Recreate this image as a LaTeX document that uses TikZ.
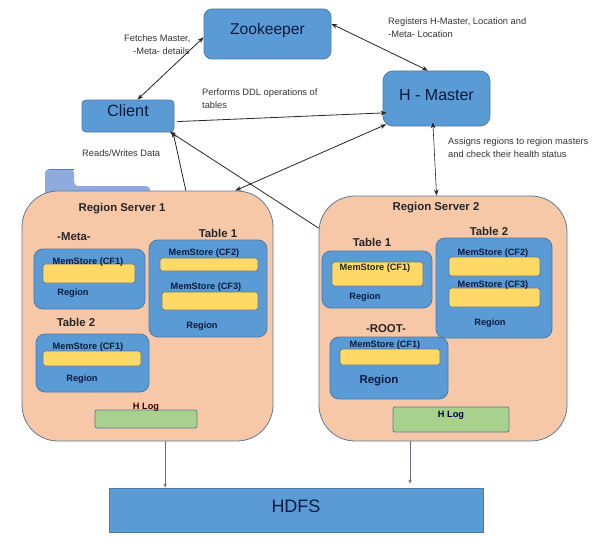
\documentclass[tikz,border=0pt]{standalone}
\usepackage{fontspec}
\setmainfont{Liberation Sans}
\usetikzlibrary{arrows.meta}

\definecolor{boxblue}{HTML}{5B9BD5}
\definecolor{lineblue}{HTML}{4A7BA8}
\definecolor{tabblue}{HTML}{8FAADC}
\definecolor{tabline}{HTML}{4F7CB0}
\definecolor{peach}{HTML}{F6C8A8}
\definecolor{peachline}{HTML}{5F7A96}
\definecolor{storeyellow}{HTML}{FFD966}
\definecolor{loggreen}{HTML}{A9D18E}
\definecolor{inkblue}{HTML}{0B1B3F}
\definecolor{hdfsline}{HTML}{66707F}

\tikzset{
    >={Stealth[length=6pt,width=4.5pt]},
    mainbox/.style={draw=lineblue, fill=boxblue, line width=0.8pt, inner sep=0pt, text=inkblue},
    serverbox/.style={draw=peachline, fill=peach, line width=0.8pt, rounded corners=36pt, inner sep=0pt},
    regionbox/.style={draw=lineblue, fill=boxblue, line width=0.8pt, rounded corners=9pt, inner sep=0pt},
    storebox/.style={draw=peachline, fill=storeyellow, line width=0.7pt, rounded corners=2.5pt, inner sep=0pt},
    logbox/.style={draw=peachline, fill=loggreen, line width=0.8pt, rounded corners=2pt, inner sep=0pt},
    note/.style={anchor=west, align=left, inner sep=0pt, text=black!80, font=\fontsize{9.3}{12.8}\selectfont},
    title/.style={inner sep=0pt, font=\fontsize{11.4}{13}\selectfont\bfseries, text=black!85},
    storelabel/.style={inner sep=0pt, font=\fontsize{9.2}{10}\selectfont\bfseries, text=inkblue},
    regionlabel/.style={inner sep=0pt, font=\fontsize{9.2}{11}\selectfont\bfseries, text=inkblue},
    datalink/.style={->, line width=0.8pt, black!85},
    hdfslink/.style={line width=0.7pt, hdfsline, -{Stealth[length=4pt,width=3.5pt]}}
}

\begin{document}
\begin{tikzpicture}[x=1pt, y=-1pt]
    \useasboundingbox (0,0) rectangle (608,551);

    % Tab behind the first server
    \fill[tabblue, rounded corners=4pt] (45,205) -- (45,169) -- (74,169) -- (74,186) -- (150,186) -- (150,205) -- cycle;
    \draw[tabline, line width=1pt] (49,169.5) -- (74,169.5);

    % Main nodes
    \node (Zookeeper) [mainbox, rounded corners=8pt, minimum width=127pt, minimum height=50pt, font=\fontsize{15.6}{18}\selectfont, text depth=11pt] at (267.5,34) {Zookeeper};
    \node (Client) [mainbox, rounded corners=4pt, minimum width=92pt, minimum height=32pt, font=\fontsize{16.3}{18}\selectfont, text depth=11pt] at (128,116) {Client};
    \node (HMaster) [mainbox, rounded corners=10pt, minimum width=107pt, minimum height=55pt, font=\fontsize{16}{18}\selectfont, text depth=8pt] at (436.5,98.5) {H - Master};
    \node (HDFS) [mainbox, minimum width=374pt, minimum height=44pt, font=\fontsize{18}{20}\selectfont, text depth=8pt] at (296,510) {HDFS};

    % Servers
    \node (RSone) [serverbox, minimum width=251pt, minimum height=250pt] at (147.5,316) {};
    \node (RStwo) [serverbox, minimum width=248pt, minimum height=245pt] at (443,318.5) {};
    \node (RSoneTitle) [title] at (122,209) {Region Server 1};
    \node (RStwoTitle) [title] at (436,208) {Region Server 2};

    % Regions of server 1
    \node (MetaTitle) [title] at (74,237) {-Meta-};
    \node (MetaRegion) [regionbox, minimum width=111pt, minimum height=60pt] at (89.5,279) {};
    \node (MetaStore) [storebox, minimum width=92pt, minimum height=19pt] at (89,273.5) {};
    \node (MetaStoreLabel) [storelabel] at (88,262) {MemStore (CF1)};
    \node (MetaLabel) [regionlabel] at (73,293) {Region};

    \node (TableOneTitle) [title] at (218,233) {Table 1};
    \node (TableOneRegion) [regionbox, minimum width=118pt, minimum height=97pt] at (208,288.5) {};
    \node (TableOneStoreA) [storebox, minimum width=98pt, minimum height=13pt] at (209,264.5) {};
    \node (TableOneStoreB) [storebox, minimum width=96pt, minimum height=18pt] at (210,301) {};
    \node (TableOneLabelA) [storelabel] at (204,253) {MemStore (CF2)};
    \node (TableOneLabelB) [storelabel] at (206,287) {MemStore (CF3)};
    \node (TableOneLabel) [regionlabel] at (202,326) {Region};

    \node (TableTwoTitle) [title] at (76,322) {Table 2};
    \node (TableTwoRegion) [regionbox, minimum width=113pt, minimum height=58pt] at (92.5,363) {};
    \node (TableTwoStore) [storebox, minimum width=98pt, minimum height=15pt] at (92,358.5) {};
    \node (TableTwoStoreLabel) [storelabel] at (88,347) {MemStore (CF1)};
    \node (TableTwoLabel) [regionlabel] at (82,379) {Region};

    \node (LogOne) [logbox, minimum width=102pt, minimum height=18pt] at (146,419) {};
    \node (LogOneLabel) [regionlabel, text=black!80!red] at (146,407) {H Log};

    % Regions of server 2
    \node (SecondOneTitle) [title] at (372,242) {Table 1};
    \node (SecondOneRegion) [regionbox, minimum width=110pt, minimum height=57pt] at (377,279.5) {};
    \node (SecondOneStore) [storebox, minimum width=91pt, minimum height=24pt] at (377.5,274) {};
    \node (SecondOneStoreLabel) [storelabel, text=black!85] at (375,268) {MemStore (CF1)};
    \node (SecondOneLabel) [regionlabel] at (365,297) {Region};

    \node (SecondTwoTitle) [title] at (489,231) {Table 2};
    \node (SecondTwoRegion) [regionbox, minimum width=116pt, minimum height=100pt] at (494,288) {};
    \node (SecondTwoStoreA) [storebox, minimum width=91pt, minimum height=19pt] at (494.5,266.5) {};
    \node (SecondTwoStoreB) [storebox, minimum width=91pt, minimum height=19pt] at (494.5,297.5) {};
    \node (SecondTwoLabelA) [storelabel] at (493,253) {MemStore (CF2)};
    \node (SecondTwoLabelB) [storelabel] at (493,285) {MemStore (CF3)};
    \node (SecondTwoLabel) [regionlabel] at (490,323) {Region};

    \node (RootTitle) [title] at (386,329) {-ROOT-};
    \node (RootRegion) [regionbox, minimum width=118pt, minimum height=62pt] at (389,368) {};
    \node (RootStore) [storebox, minimum width=100pt, minimum height=16pt] at (390,357) {};
    \node (RootStoreLabel) [storelabel] at (385,345) {MemStore (CF1)};
    \node (RootLabel) [regionlabel, font=\fontsize{11.5}{13}\selectfont\bfseries] at (379,381) {Region};

    \node (LogTwo) [logbox, minimum width=116pt, minimum height=25pt] at (451,419.5) {};
    \node (LogTwoLabel) [regionlabel, text=black!80!blue] at (451,415) {H Log};

    % Notes
    \node (FetchNote) [note] at (124,44.5) {Fetches Master,\\\hspace{9pt}-Meta- details};
    \node (DdlNote) [note] at (202,98.5) {Performs DDL operations of\\tables};
    \node (RegisterNote) [note] at (388,27.5) {Registers H-Master, Location and\\-Meta- Location};
    \node (AssignNote) [note] at (448,148) {Assigns regions to region masters\\and check their health status};
    \node (ReadNote) [note] at (82,153) {Reads/Writes Data};

    % Arrows
    \draw[datalink, <->] (Client.60) -- (Zookeeper.183);
    \draw[datalink, <->] (Zookeeper.9) -- (HMaster.107);
    \draw[datalink, shorten <=3pt, shorten >=-4pt] (Client.-7) -- (HMaster.195);
    \draw[datalink, <->, shorten >=-4pt] (RSone.55.3) -- (HMaster.207);
    \draw[datalink, shorten >=-1pt] (RSone.73.3) -- (Client.-20);
    \draw[datalink, shorten >=-1pt] (RStwo.144.8) -- (Client.-21);
    \draw[datalink, <->, line width=0.6pt, shorten <=-4pt] (HMaster.-97) -- (RStwo.93.3);

    \draw[hdfslink] (RSone.-82.5) -- (RSone.-82.5 |- HDFS.north);
    \draw[hdfslink, shorten >=4pt] (RStwo.-105.5) -- (RStwo.-105.5 |- HDFS.north);

\end{tikzpicture}
\end{document}
